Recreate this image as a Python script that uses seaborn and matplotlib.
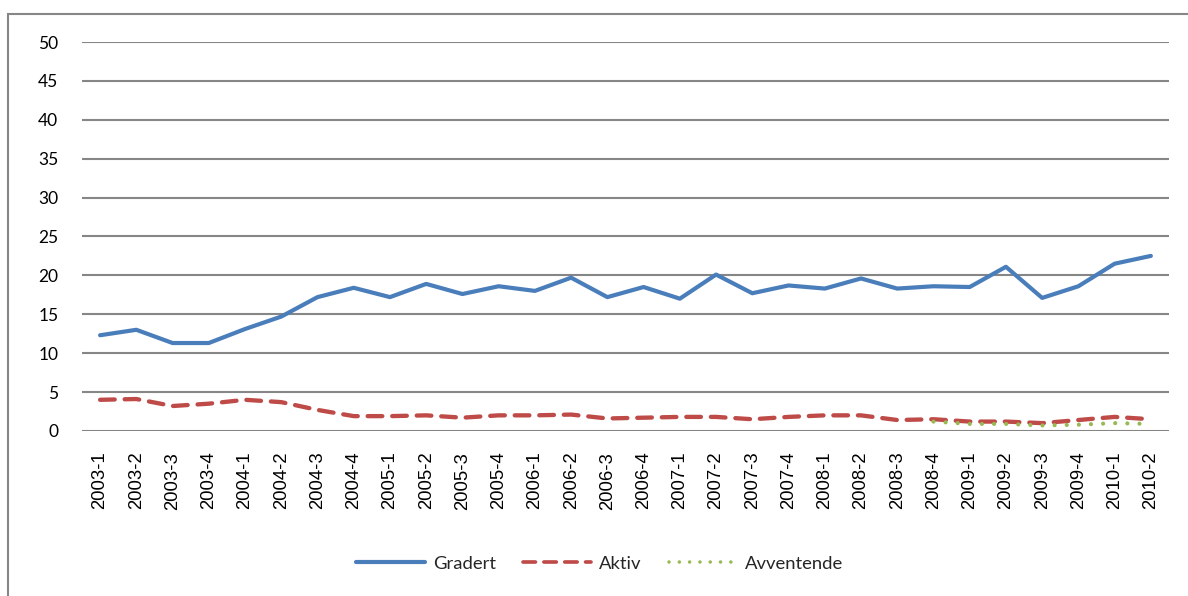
import matplotlib
matplotlib.use("Agg")
import matplotlib.pyplot as plt
from matplotlib.patches import Rectangle
from matplotlib.lines import Line2D
import numpy as np
import pandas as pd
import seaborn as sns

quarters = [
    "2003-1", "2003-2", "2003-3", "2003-4",
    "2004-1", "2004-2", "2004-3", "2004-4",
    "2005-1", "2005-2", "2005-3", "2005-4",
    "2006-1", "2006-2", "2006-3", "2006-4",
    "2007-1", "2007-2", "2007-3", "2007-4",
    "2008-1", "2008-2", "2008-3", "2008-4",
    "2009-1", "2009-2", "2009-3", "2009-4",
    "2010-1", "2010-2",
]
gradert = [12.3, 13.0, 11.3, 11.3, 13.1, 14.7, 17.2, 18.4, 17.2, 18.9,
           17.6, 18.6, 18.0, 19.7, 17.2, 18.5, 17.0, 20.1, 17.7, 18.7,
           18.3, 19.6, 18.3, 18.6, 18.5, 21.1, 17.1, 18.6, 21.5, 22.5]
aktiv = [4.0, 4.1, 3.2, 3.5, 4.0, 3.7, 2.7, 1.9, 1.9, 2.0,
         1.7, 2.0, 2.0, 2.1, 1.6, 1.7, 1.8, 1.8, 1.5, 1.8,
         2.0, 2.0, 1.4, 1.5, 1.2, 1.2, 1.0, 1.4, 1.8, 1.5]
avventende = [None] * 23 + [1.2, 0.9, 0.9, 0.7, 0.8, 1.0, 0.9]

series_names = ["Gradert", "Aktiv", "Avventende"]
colors = {"Gradert": "#4A7EBB", "Aktiv": "#BE4B48", "Avventende": "#98B954"}

sns.set_theme(style="white")
plt.rcParams["font.family"] = ["Lato", "DejaVu Sans"]

df = pd.DataFrame({
    "kvartal": quarters * 3,
    "verdi": gradert + aktiv + avventende,
    "serie": sum([[n] * len(quarters) for n in series_names], []),
})
df["verdi"] = pd.to_numeric(df["verdi"])
df = df.dropna()

fig = plt.figure(figsize=(11.88, 5.96), dpi=100)
ax = fig.add_axes([0.069, 0.277, 0.915, 0.6525])

sns.lineplot(data=df, x="kvartal", y="verdi", hue="serie", hue_order=series_names,
             palette=colors, sort=False, ax=ax, legend=False, linewidth=2.9)

styles = {
    "Gradert": dict(linestyle="-", linewidth=3.0),
    "Aktiv": dict(linestyle=(0, (3.4, 2.3)), linewidth=3.1),
    "Avventende": dict(linestyle=(0, (0.01, 2.9)), linewidth=3.0),
}
for line, name in zip(ax.get_lines(), series_names):
    line.set_linestyle(styles[name]["linestyle"])
    line.set_linewidth(styles[name]["linewidth"])
    line.set_dash_capstyle("round")
    line.set_solid_capstyle("round")
    line.set_solid_joinstyle("round")
    line.set_zorder(4 if name == "Avventende" else 3)

ax.set_xlim(-0.5, len(quarters) - 0.5)
ax.set_ylim(0, 50)
ax.set_yticks(np.arange(0, 51, 5))
ax.set_xticks(range(len(quarters)))
ax.set_xticklabels(quarters, rotation=90, fontfamily="Liberation Sans", fontsize=13.3)
ax.tick_params(axis="y", labelsize=12.5, pad=17, length=0, labelcolor="#000000")
ax.tick_params(axis="x", pad=15, length=0, labelcolor="#000000")
ax.set_xlabel("")
ax.set_ylabel("")
ax.grid(axis="y", color="#868686", linewidth=1.5)
ax.grid(axis="x", visible=False)
for s in ax.spines.values():
    s.set_visible(False)
ax.set_axisbelow(True)

# legend at the bottom
handles = [
    Line2D([], [], color=colors[name], linestyle=styles[name]["linestyle"],
           linewidth=styles[name]["linewidth"] * (0.85 if name != "Gradert" else 1.0),
           dash_capstyle="round")
    for name in series_names
]
fig.legend(handles, series_names, loc="center", bbox_to_anchor=(0.505, 0.054),
           ncol=3, frameon=False, fontsize=13.3, handlelength=3.7,
           handletextpad=0.45, columnspacing=1.45)

# outer chart frame
fig.patches.append(Rectangle((8 / 1188, -0.05), 1.2, (596 - 14) / 596 + 0.05,
                             transform=fig.transFigure, fill=False,
                             edgecolor="#868686", linewidth=1.5, clip_on=False))

fig.savefig("out.png", dpi=100, facecolor="white")
